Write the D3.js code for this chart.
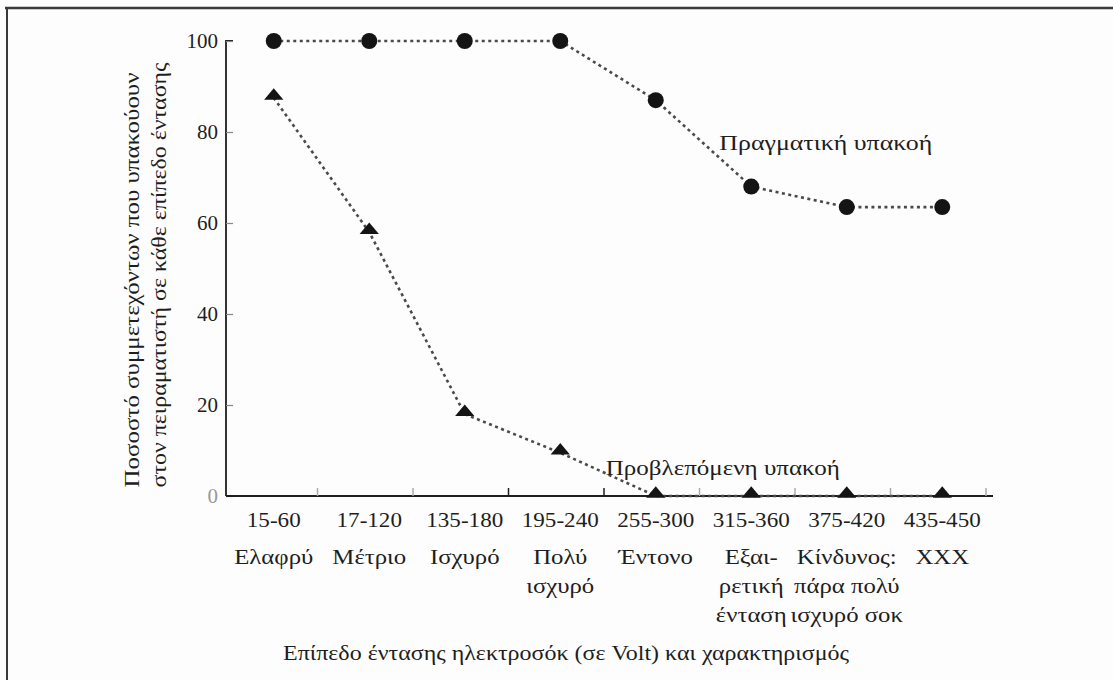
<!DOCTYPE html>
<html>
<head>
<meta charset="utf-8">
<script src="https://cdn.jsdelivr.net/npm/d3@7"></script>
<style>
  html, body { margin: 0; padding: 0; background: #fdfdfd; }
  svg { display: block; font-family: "Liberation Serif", "DejaVu Serif", serif; }
</style>
</head>
<body>
<svg id="chart" width="1113" height="680"></svg>
<script>
// ---- data ----
const ranges = ["15-60", "17-120", "135-180", "195-240", "255-300", "315-360", "375-420", "435-450"];
const descriptors = [
  ["Ελαφρύ"],
  ["Μέτριο"],
  ["Ισχυρό"],
  ["Πολύ", "ισχυρό"],
  ["Έντονο"],
  ["Εξαι-", "ρετική", "ένταση"],
  ["Κίνδυνος:", "πάρα πολύ", "ισχυρό σοκ"],
  ["XXX"]
];
const actualObedience = [100, 100, 100, 100, 87, 68, 63.5, 63.5];
const predictedObedience = [87.5, 58, 18, 9.5, 0, 0, 0, 0];
const yTicks = [0, 20, 40, 60, 80, 100];
const actualLabel = "Πραγματική υπακοή";
const predictedLabel = "Προβλεπόμενη υπακοή";
const xTitle = "Επίπεδο έντασης ηλεκτροσόκ (σε Volt) και χαρακτηρισμός";
const yTitle = ["Ποσοστό συμμετεχόντων που υπακούουν", "στον πειραματιστή σε κάθε επίπεδο έντασης"];

// ---- layout ----
const svg = d3.select("#chart");
const mLeft = 226, mRight = 990, mTop = 41, mBottom = 496;
const ink = "#1e1e1e";

const x = d3.scalePoint().domain(ranges).range([mLeft, mRight]).padding(0.5);
const y = d3.scaleLinear().domain([0, 100]).range([mBottom, mTop]);
const step = x.step();

// frame
svg.append("line").attr("x1", 5).attr("x2", 1113).attr("y1", 8).attr("y2", 8)
  .attr("stroke", "#3a3a3a").attr("stroke-width", 2.5);
svg.append("line").attr("x1", 7).attr("x2", 7).attr("y1", 8).attr("y2", 680)
  .attr("stroke", "#3a3a3a").attr("stroke-width", 2);

// y axis
const yAxis = d3.axisLeft(y).tickValues(yTicks).tickSize(-7).tickPadding(8)
  .tickFormat(d3.format("d"));
const gy = svg.append("g").attr("transform", `translate(${mLeft},0)`).call(yAxis);
gy.select(".domain").attr("stroke", ink).attr("stroke-width", 1.8)
  .attr("d", `M0,${mBottom}V${mTop}h7`);
gy.selectAll(".tick line").attr("stroke", "#888").attr("stroke-width", 1.2);
gy.selectAll(".tick text").attr("font-size", 21)
  .attr("font-family", "Liberation Serif, serif")
  .attr("fill", d => d === 0 ? "#999" : ink);

// x axis
const xAxis = d3.axisBottom(x).tickSize(0).tickFormat("");
const gx = svg.append("g").attr("transform", `translate(0,${mBottom})`).call(xAxis);
gx.select(".domain").attr("stroke", ink).attr("stroke-width", 1.8)
  .attr("d", `M${mLeft},0H${mRight + 3}`);
gx.selectAll(".bt").data(ranges).enter().append("line")
  .attr("x1", d => x(d) + step / 2 - 4).attr("x2", d => x(d) + step / 2 - 4)
  .attr("y1", 0).attr("y2", -8)
  .attr("stroke", (d, i) => (i === 2 || i === 3) ? ink : "#aaa").attr("stroke-width", 1.5);

// category labels
const lab = svg.append("g").attr("font-size", 21).attr("fill", ink).attr("text-anchor", "middle");
lab.selectAll(".r").data(ranges).enter().append("text")
  .attr("transform", d => `translate(${x(d)},527) scale(1.1,1)`).text(d => d);
descriptors.forEach((lines, i) => {
  lines.forEach((t, j) => {
    lab.append("text")
      .attr("transform", `translate(${x(ranges[i])},${564 + j * 29}) scale(1.18,1)`)
      .text(t);
  });
});

// lines
const line = d3.line().x((d, i) => x(ranges[i])).y(d => y(d));
svg.append("path").datum(actualObedience).attr("d", line)
  .attr("fill", "none").attr("stroke", "#4a4a4a").attr("stroke-width", 2.6)
  .attr("stroke-dasharray", "3,3.5");
svg.append("path").datum(predictedObedience).attr("d", line)
  .attr("fill", "none").attr("stroke", "#4a4a4a").attr("stroke-width", 2.6)
  .attr("stroke-dasharray", "3,3.5");

// markers
svg.selectAll(".dot").data(actualObedience).enter().append("circle")
  .attr("cx", (d, i) => x(ranges[i])).attr("cy", d => y(d)).attr("r", 8)
  .attr("fill", "#141414");
const tri = d3.symbol().type(d3.symbolTriangle).size(95);
svg.selectAll(".tri").data(predictedObedience).enter().append("path")
  .attr("d", tri)
  .attr("transform", (d, i) => `translate(${x(ranges[i])},${y(d) - 2}) scale(1.3,0.9)`)
  .attr("fill", "#141414");

// annotations
svg.append("text").attr("x", x(ranges[5]) - 32).attr("y", y(80) + 18)
  .attr("font-size", 21).attr("fill", ink)
  .attr("textLength", 213).attr("lengthAdjust", "spacingAndGlyphs").text(actualLabel);
svg.append("text").attr("x", x(ranges[4]) - 50).attr("y", y(5) + 2)
  .attr("font-size", 21).attr("fill", ink)
  .attr("textLength", 234).attr("lengthAdjust", "spacingAndGlyphs").text(predictedLabel);

// axis titles
svg.append("text").attr("x", 566).attr("y", 660).attr("text-anchor", "middle")
  .attr("font-size", 21).attr("fill", ink)
  .attr("textLength", 566).attr("lengthAdjust", "spacingAndGlyphs").text(xTitle);
yTitle.forEach((t, i) => {
  svg.append("text")
    .attr("transform", `translate(${139 + i * 27},${i === 0 ? 280 : 275}) rotate(-90)`)
    .attr("text-anchor", "middle").attr("font-size", 20).attr("fill", ink)
    .attr("textLength", i === 0 ? 415 : 425).attr("lengthAdjust", "spacingAndGlyphs")
    .text(t);
});
</script>
</body>
</html>
